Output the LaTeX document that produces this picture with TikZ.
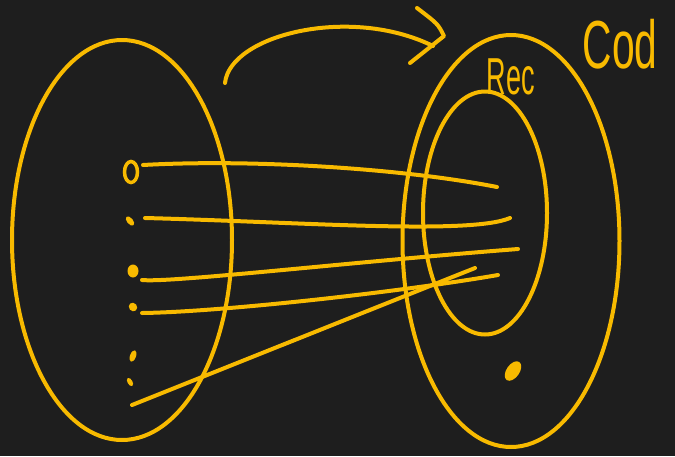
\documentclass[tikz,border=0pt]{standalone}
\usepackage{fontspec}
\setmainfont{Liberation Sans}
\usetikzlibrary{shapes.geometric}
\definecolor{bg}{RGB}{30,30,30}
\definecolor{ink}{RGB}{248,186,0}
\begin{document}
\begin{tikzpicture}[x=1pt,y=-1pt,
  inkline/.style={draw=ink,line width=4pt,line cap=round,line join=round},
  blob/.style={ellipse,fill=ink,inner sep=0pt},
  ring/.style={ellipse,draw=ink,line width=4pt,inner sep=0pt},
  lbl/.style={text=ink,inner sep=0pt}]
\fill[bg] (0,0) rectangle (675,456);
\useasboundingbox (0,0) rectangle (675,456);
% sets
\node[ring, minimum width=220, minimum height=400] (dom) at (122,240) {};
\node[ring, minimum width=217, minimum height=412] (cod) at (511,241) {};
\node[ring, minimum width=124, minimum height=243] (rec) at (485,213) {};
% labels
\node[lbl, anchor=base, font=\fontsize{68}{68}\selectfont] (codlbl) at (620,68) {\scalebox{0.6}[1]{Cod}};
\node[lbl, anchor=base, font=\fontsize{52}{52}\selectfont] (reclbl) at (511,94) {\scalebox{0.52}[1]{Rec}};
% dots in the domain
\node[ring, line width=3.5pt, minimum width=13, minimum height=21] (d1) at (131,172) {};
\node[blob, minimum width=6, minimum height=11, rotate=40] (d2) at (130,221) {};
\node[blob, minimum width=11, minimum height=13] (d3) at (133,271) {};
\node[blob, minimum width=8, minimum height=9, rotate=40] (d4) at (133,307) {};
\node[blob, minimum width=6, minimum height=12, rotate=-20] (d5) at (133,356) {};
\node[blob, minimum width=5, minimum height=9, rotate=30] (d6) at (130,382) {};
% dot in the codomain
\node[blob, minimum width=13, minimum height=22, rotate=-35] (d7) at (513,371) {};
% line ends
\coordinate (s1) at (143,165);
\coordinate (s2) at (145,218);
\coordinate (s3) at (142,280);
\coordinate (s4) at (142,313);
\coordinate (s5) at (132,405);
\coordinate (e1) at (497,187);
\coordinate (e2) at (510,218);
\coordinate (e3) at (518,249);
\coordinate (e4) at (498,275);
\coordinate (e5) at (475,268);
\draw[inkline] (s1) .. controls (250,159) and (400,168) .. (e1);
\draw[inkline] (s2) .. controls (300,222) and (470,235) .. (e2);
\draw[inkline] (s3) .. controls (170,283) and (350,262) .. (e3);
\draw[inkline] (s4) .. controls (220,312) and (400,292) .. (e4);
\draw[inkline] (s5) -- (e5);
% arrow on top
\coordinate (a0) at (225,83);
\coordinate (a1) at (433,46);
\coordinate (c1) at (417,8);
\coordinate (c2) at (444,36);
\coordinate (c3) at (410,63);
\draw[inkline] (a0) .. controls (230,35) and (350,5) .. (a1);
\draw[inkline] (c1) .. controls (438,24) .. (c2) -- (c3);
\end{tikzpicture}
\end{document}
